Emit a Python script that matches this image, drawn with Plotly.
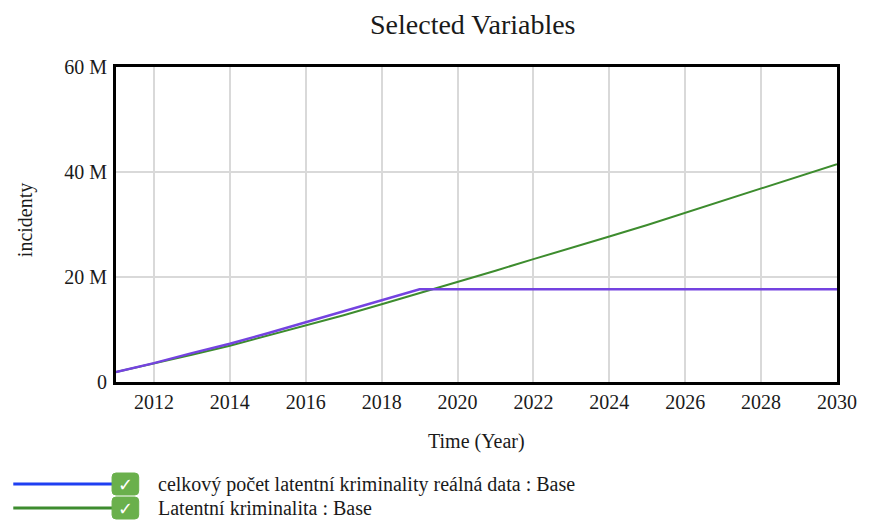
import plotly.graph_objects as go

years = list(range(2011, 2031))
real_data = [1.9, 3.6, 5.5, 7.3, 9.3, 11.4, 13.5, 15.5, 17.65,
             17.65, 17.65, 17.65, 17.65, 17.65, 17.65, 17.65, 17.65, 17.65, 17.65, 17.65]
latentni = [1.9, 3.5, 5.2, 6.9, 8.8, 10.7, 12.7, 14.8, 16.9, 19.1,
            21.2, 23.4, 25.5, 27.7, 29.9, 32.2, 34.5, 36.9, 39.2, 41.5]
series_names = ["celkový počet latentní kriminality reálná data : Base",
                "Latentní kriminalita : Base"]
x_ticks = list(range(2012, 2031, 2))
y_ticks = [0, 20e6, 40e6, 60e6]
y_ticktext = ["0", "20 M", "40 M", "60 M"]

FONT = "Liberation Serif"
W, H = 869, 522
L, R, T, B = 116, 23, 67, 140
pw, ph = W - L - R, H - T - B

def px(x):
    return (x - L) / pw

def py(y):
    return (H - B - y) / ph

fig = go.Figure()
fig.add_trace(go.Scatter(x=years, y=[v * 1e6 for v in latentni], mode="lines",
                         line=dict(color="#3d8c2e", width=2), name=series_names[1],
                         showlegend=False))
fig.add_trace(go.Scatter(x=years, y=[v * 1e6 for v in real_data], mode="lines",
                         line=dict(color="#7443e0", width=2.5), name=series_names[0],
                         showlegend=False))

shapes = []
annotations = []
legend_colors = ["#1f3ff2", "#3d8c2e"]
legend_y = [484, 508]
for name, col, yy in zip(series_names, legend_colors, legend_y):
    shapes.append(dict(type="line", xref="paper", yref="paper",
                       x0=px(12), x1=px(122), y0=py(yy), y1=py(yy),
                       line=dict(color=col, width=3)))
    x0, x1, y0, y1, r = 112, 139, yy - 11, yy + 11, 4
    path = (f"M {px(x0 + r)},{py(y0)} L {px(x1 - r)},{py(y0)} "
            f"Q {px(x1)},{py(y0)} {px(x1)},{py(y0 + r)} L {px(x1)},{py(y1 - r)} "
            f"Q {px(x1)},{py(y1)} {px(x1 - r)},{py(y1)} L {px(x0 + r)},{py(y1)} "
            f"Q {px(x0)},{py(y1)} {px(x0)},{py(y1 - r)} L {px(x0)},{py(y0 + r)} "
            f"Q {px(x0)},{py(y0)} {px(x0 + r)},{py(y0)} Z")
    shapes.append(dict(type="path", xref="paper", yref="paper", path=path,
                       fillcolor="#6ab04c", line=dict(color="#6ab04c", width=1)))
    annotations.append(dict(x=px(125.5), y=py(yy), xref="paper", yref="paper",
                            text="✓", showarrow=False, xanchor="center", yanchor="middle",
                            font=dict(family="DejaVu Sans", size=18, color="white")))
    annotations.append(dict(x=px(156), y=py(yy), xref="paper", yref="paper",
                            text=name, showarrow=False, xanchor="left", yanchor="middle",
                            font=dict(family=FONT, size=20, color="#1a1a1a")))

annotations.append(dict(x=px(477), y=py(24), xref="paper", yref="paper",
                        text="Selected Variables", showarrow=False,
                        xanchor="center", yanchor="middle",
                        font=dict(family=FONT, size=28, color="#1a1a1a")))
annotations.append(dict(x=px(481), y=py(441), xref="paper", yref="paper",
                        text="Time (Year)", showarrow=False,
                        xanchor="center", yanchor="middle",
                        font=dict(family=FONT, size=20, color="#1a1a1a")))
annotations.append(dict(x=px(24), y=py(220), xref="paper", yref="paper",
                        text="incidenty", showarrow=False, textangle=-90,
                        xanchor="center", yanchor="middle",
                        font=dict(family=FONT, size=20, color="#1a1a1a")))

fig.update_layout(
    width=W, height=H,
    margin=dict(l=L, r=R, t=T, b=B),
    paper_bgcolor="white", plot_bgcolor="white",
    font=dict(family=FONT, size=20, color="#1a1a1a"),
    shapes=shapes, annotations=annotations,
    xaxis=dict(range=[2011, 2030], tickvals=x_ticks, showgrid=True,
               gridcolor="#d9d9d9", gridwidth=2, showline=True, linecolor="black",
               linewidth=3, mirror=True, ticks="", zeroline=False,
               tickfont=dict(family=FONT, size=20, color="#1a1a1a")),
    yaxis=dict(range=[0, 60e6], tickvals=y_ticks, ticktext=y_ticktext, showgrid=True,
               gridcolor="#d9d9d9", gridwidth=2, showline=True, linecolor="black",
               linewidth=3, mirror=True, ticks="outside", ticklen=2,
               tickcolor="rgba(0,0,0,0)", zeroline=False,
               tickfont=dict(family=FONT, size=20, color="#1a1a1a")),
)

fig.write_html("out.html", config={"displayModeBar": False},
               post_script="document.body.style.margin='0';document.body.style.overflow='hidden';")
